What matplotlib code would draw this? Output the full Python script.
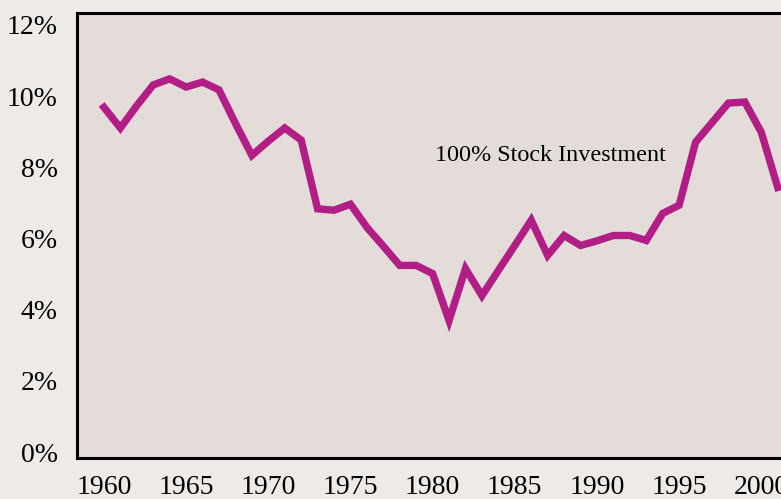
from matplotlib import pyplot as plt
from matplotlib.ticker import FuncFormatter
from matplotlib.transforms import ScaledTranslation

plt.rcParams['font.family'] = ['Liberation Serif', 'DejaVu Serif']

# withdrawal rate, 100% stocks
years = list(range(1960, 2002))
rates = [9.85, 9.27, 9.9, 10.48, 10.65, 10.42, 10.56, 10.34, 9.4, 8.5,
         8.9, 9.27, 8.93, 7.0, 6.96, 7.13, 6.48, 5.95, 5.41, 5.41,
         5.18, 3.86, 5.32, 4.56, 5.27, 5.97, 6.68, 5.69, 6.25, 5.97,
         6.1, 6.25, 6.25, 6.11, 6.87, 7.1, 8.87, 9.42, 9.97, 10.0,
         9.15, 7.6]

fig = plt.figure(figsize=(7.81, 4.99), dpi=100, facecolor='#EEEAE7')
ax = fig.add_axes([77 / 781, 41 / 499, 1 - 77 / 781, 445 / 499])
ax.set_facecolor('#E3DCD9')

ax.plot(years, rates, color='#B31E86', linewidth=5.3, solid_joinstyle='miter')

ax.set_xlim(1958.36, 2001.2)
ax.set_ylim(0, 12.5)
ax.set_xticks(range(1960, 2005, 5))
ax.set_yticks(range(0, 13, 2))
ax.yaxis.set_major_formatter(FuncFormatter(lambda v, p: '%d%%' % v))
ax.tick_params(length=0, labelsize=20)
ax.tick_params(axis='y', pad=14)
ax.tick_params(axis='x', pad=12)

# y labels sit a bit above their gridline in the original
up = ScaledTranslation(0, 6 / 100, fig.dpi_scale_trans)
for lbl in ax.get_yticklabels():
    lbl.set_transform(lbl.get_transform() + up)

for s in ['left', 'top', 'bottom']:
    ax.spines[s].set_linewidth(2.2)
    ax.spines[s].set_color('black')
ax.spines['right'].set_visible(False)

ax.text(1987.2, 8.5, '100% Stock Investment', fontsize=17.4, ha='center', va='center')

fig.savefig('out.png', dpi=100, facecolor=fig.get_facecolor())
